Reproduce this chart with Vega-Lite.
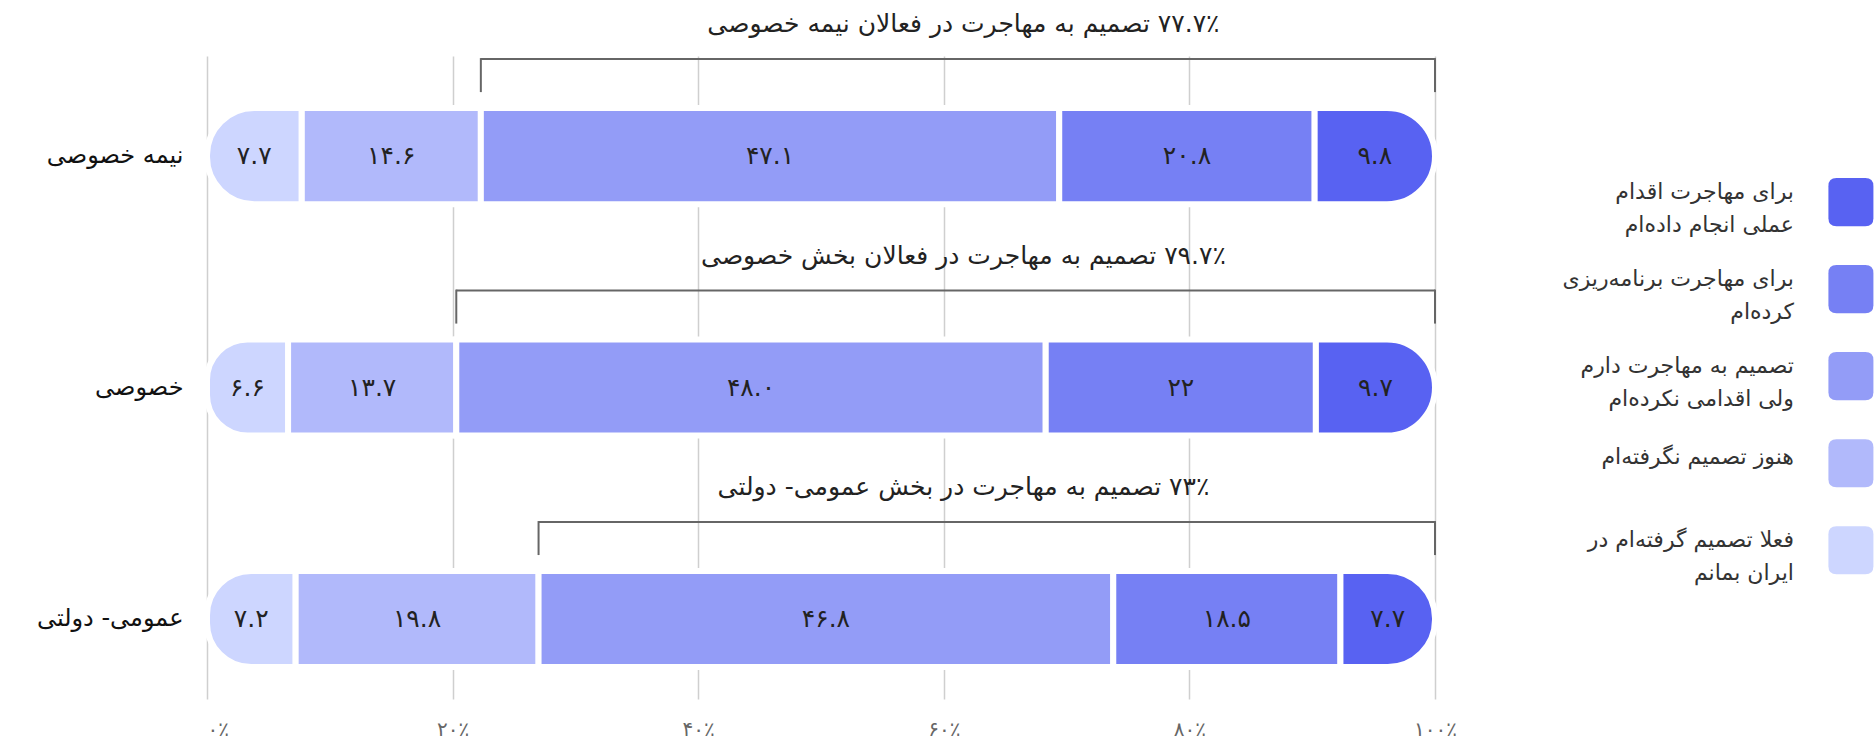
{
  "$schema": "https://vega.github.io/schema/vega-lite/v6.json",
  "width": 1667,
  "height": 643,
  "autosize": {"type": "none"},
  "padding": {"left": 207, "top": 56, "right": 0, "bottom": 49},
  "background": "white",
  "config": {
    "font": "DejaVu Sans",
    "view": {"stroke": null},
    "axisY": {"domain": false, "ticks": false, "labelFontSize": 24, "labelPadding": 24, "labelColor": "#111", "grid": false},
    "axisX": {"domain": false, "ticks": false, "grid": true, "gridColor": "#cfcfcf", "gridWidth": 1.5, "labelFontSize": 20, "labelColor": "#666", "labelPadding": 20}
  },
  "datasets": {
    "bars": [
      {"cat": "نیمه خصوصی", "resp": "فعلا تصمیم گرفته‌ام در ایران بمانم", "ord": 1, "value": 7.7, "label": "۷.۷"},
      {"cat": "نیمه خصوصی", "resp": "هنوز تصمیم نگرفته‌ام", "ord": 2, "value": 14.6, "label": "۱۴.۶"},
      {"cat": "نیمه خصوصی", "resp": "تصمیم به مهاجرت دارم ولی اقدامی نکرده‌ام", "ord": 3, "value": 47.1, "label": "۴۷.۱"},
      {"cat": "نیمه خصوصی", "resp": "برای مهاجرت برنامه‌ریزی کرده‌ام", "ord": 4, "value": 20.8, "label": "۲۰.۸"},
      {"cat": "نیمه خصوصی", "resp": "برای مهاجرت اقدام عملی انجام داده‌ام", "ord": 5, "value": 9.8, "label": "۹.۸"},
      {"cat": "خصوصی", "resp": "فعلا تصمیم گرفته‌ام در ایران بمانم", "ord": 1, "value": 6.6, "label": "۶.۶"},
      {"cat": "خصوصی", "resp": "هنوز تصمیم نگرفته‌ام", "ord": 2, "value": 13.7, "label": "۱۳.۷"},
      {"cat": "خصوصی", "resp": "تصمیم به مهاجرت دارم ولی اقدامی نکرده‌ام", "ord": 3, "value": 48.0, "label": "۴۸.۰"},
      {"cat": "خصوصی", "resp": "برای مهاجرت برنامه‌ریزی کرده‌ام", "ord": 4, "value": 22, "label": "۲۲"},
      {"cat": "خصوصی", "resp": "برای مهاجرت اقدام عملی انجام داده‌ام", "ord": 5, "value": 9.7, "label": "۹.۷"},
      {"cat": "عمومی- دولتی", "resp": "فعلا تصمیم گرفته‌ام در ایران بمانم", "ord": 1, "value": 7.2, "label": "۷.۲"},
      {"cat": "عمومی- دولتی", "resp": "هنوز تصمیم نگرفته‌ام", "ord": 2, "value": 19.8, "label": "۱۹.۸"},
      {"cat": "عمومی- دولتی", "resp": "تصمیم به مهاجرت دارم ولی اقدامی نکرده‌ام", "ord": 3, "value": 46.8, "label": "۴۶.۸"},
      {"cat": "عمومی- دولتی", "resp": "برای مهاجرت برنامه‌ریزی کرده‌ام", "ord": 4, "value": 18.5, "label": "۱۸.۵"},
      {"cat": "عمومی- دولتی", "resp": "برای مهاجرت اقدام عملی انجام داده‌ام", "ord": 5, "value": 7.7, "label": "۷.۷"}
    ],
    "brackets": [
      {"cat": "نیمه خصوصی", "from": 22.3, "to": 100, "label": "\u200f۷۷.۷٪ تصمیم به مهاجرت در فعالان نیمه خصوصی"},
      {"cat": "خصوصی", "from": 20.3, "to": 100, "label": "\u200f۷۹.۷٪ تصمیم به مهاجرت در فعالان بخش خصوصی"},
      {"cat": "عمومی- دولتی", "from": 27.0, "to": 100, "label": "\u200f۷۳٪ تصمیم به مهاجرت در بخش عمومی- دولتی"}
    ],
    "legend": [
      {"rank": 1, "resp": "برای مهاجرت اقدام عملی انجام داده‌ام", "text": "برای مهاجرت اقدام\nعملی انجام داده‌ام"},
      {"rank": 2, "resp": "برای مهاجرت برنامه‌ریزی کرده‌ام", "text": "برای مهاجرت برنامه‌ریزی\nکرده‌ام"},
      {"rank": 3, "resp": "تصمیم به مهاجرت دارم ولی اقدامی نکرده‌ام", "text": "تصمیم به مهاجرت دارم\nولی اقدامی نکرده‌ام"},
      {"rank": 4, "resp": "هنوز تصمیم نگرفته‌ام", "text": "هنوز تصمیم نگرفته‌ام"},
      {"rank": 5, "resp": "فعلا تصمیم گرفته‌ام در ایران بمانم", "text": "فعلا تصمیم گرفته‌ام در\nایران بمانم"}
    ]
  },
  "resolve": {"scale": {"y": "independent"}},
  "layer": [
    {
      "layer": [
        {
          "data": {"name": "bars"},
          "transform": [
            {"stack": "value", "groupby": ["cat"], "sort": [{"field": "ord", "order": "ascending"}], "as": ["x0", "x1"]},
            {"calculate": "(datum.x0 + datum.x1) / 2", "as": "mid"}
          ],
          "encoding": {
            "y": {"field": "cat", "type": "nominal", "title": null,
                  "scale": {"domain": ["نیمه خصوصی", "خصوصی", "عمومی- دولتی"], "paddingInner": 0.585, "paddingOuter": 0.1814, "align": 0.62}},
            "color": {"field": "resp", "type": "nominal", "legend": null,
                      "scale": {"domain": ["برای مهاجرت اقدام عملی انجام داده‌ام", "برای مهاجرت برنامه‌ریزی کرده‌ام", "تصمیم به مهاجرت دارم ولی اقدامی نکرده‌ام", "هنوز تصمیم نگرفته‌ام", "فعلا تصمیم گرفته‌ام در ایران بمانم"],
                                "range": ["#5862f2", "#7680f4", "#939cf7", "#b1b9fb", "#cdd6ff"]}}
          },
          "layer": [
            {
              "transform": [{"filter": "datum.ord > 1 && datum.ord < 5"}],
              "mark": {"type": "rect", "stroke": "white", "strokeWidth": 6},
              "encoding": {
                "x": {"field": "x0", "type": "quantitative", "title": null,
                      "scale": {"domain": [0, 135.75], "nice": false, "zero": false},
                      "axis": {"values": [0, 20, 40, 60, 80, 100], "labelExpr": "['۰٪','۲۰٪','۴۰٪','۶۰٪','۸۰٪','۱۰۰٪'][round(datum.value / 20)]"}},
                "x2": {"field": "x1"}
              }
            },
            {
              "transform": [{"filter": "datum.ord == 1"}],
              "mark": {"type": "rect", "stroke": "white", "strokeWidth": 6, "cornerRadiusTopLeft": 48, "cornerRadiusBottomLeft": 48},
              "encoding": {
                "x": {"field": "x0", "type": "quantitative", "title": null},
                "x2": {"field": "x1"}
              }
            },
            {
              "transform": [{"filter": "datum.ord == 5"}],
              "mark": {"type": "rect", "stroke": "white", "strokeWidth": 6, "cornerRadiusTopRight": 48, "cornerRadiusBottomRight": 48},
              "encoding": {
                "x": {"field": "x0", "type": "quantitative", "title": null},
                "x2": {"field": "x1"}
              }
            },
            {
              "mark": {"type": "text", "fontSize": 25, "baseline": "middle", "align": "center"},
              "encoding": {
                "x": {"field": "mid", "type": "quantitative", "title": null},
                "text": {"field": "label"},
                "color": {"value": "#222222"}
              }
            }
          ]
        },
        {
          "data": {"name": "brackets"},
          "encoding": {
            "y": {"field": "cat", "type": "nominal", "title": null, "bandPosition": 0.5}
          },
          "layer": [
            {
              "mark": {"type": "rule", "color": "#666666", "strokeWidth": 2, "yOffset": -97},
              "encoding": {
                "x": {"field": "from", "type": "quantitative", "title": null},
                "x2": {"field": "to"}
              }
            },
            {
              "mark": {"type": "rule", "color": "#666666", "strokeWidth": 2, "yOffset": -98, "y2Offset": -64},
              "encoding": {
                "x": {"field": "from", "type": "quantitative", "title": null},
                "y2": {"field": "cat", "bandPosition": 0.5}
              }
            },
            {
              "mark": {"type": "rule", "color": "#666666", "strokeWidth": 2, "yOffset": -98, "y2Offset": -64},
              "encoding": {
                "x": {"field": "to", "type": "quantitative", "title": null},
                "y2": {"field": "cat", "bandPosition": 0.5}
              }
            },
            {
              "mark": {"type": "text", "fontSize": 25, "color": "#222222", "yOffset": -132, "baseline": "middle", "align": "center"},
              "encoding": {
                "x": {"datum": 61.6},
                "text": {"field": "label"}
              }
            }
          ]
        }
      ]
    },
    {
      "data": {"name": "legend"},
      "encoding": {
        "y": {"field": "rank", "type": "quantitative", "axis": null,
              "scale": {"domain": [-0.68, 6.71], "reverse": true, "nice": false, "zero": false}}
      },
      "layer": [
        {
          "mark": {"type": "point", "shape": "M-0.64,-1.07 L0.64,-1.07 Q1,-1.07 1,-0.71 L1,0.71 Q1,1.07 0.64,1.07 L-0.64,1.07 Q-1,1.07 -1,0.71 L-1,-0.71 Q-1,-1.07 -0.64,-1.07 Z", "size": 2025, "filled": true, "opacity": 1, "strokeWidth": 0},
          "encoding": {
            "x": {"datum": 133.87},
            "color": {"field": "resp", "type": "nominal", "legend": null}
          }
        },
        {
          "transform": [{"filter": "indexof(datum.text, '\\n') >= 0"}],
          "mark": {"type": "text", "align": "right", "baseline": "middle", "lineBreak": "\n", "lineHeight": 33, "fontSize": 22, "color": "#333333", "dy": -10},
          "encoding": {
            "x": {"datum": 129.23},
            "text": {"field": "text"}
          }
        },
        {
          "transform": [{"filter": "indexof(datum.text, '\\n') < 0"}],
          "mark": {"type": "text", "align": "right", "baseline": "middle", "fontSize": 22, "color": "#333333", "dy": -6},
          "encoding": {
            "x": {"datum": 129.23},
            "text": {"field": "text"}
          }
        }
      ]
    }
  ]
}
